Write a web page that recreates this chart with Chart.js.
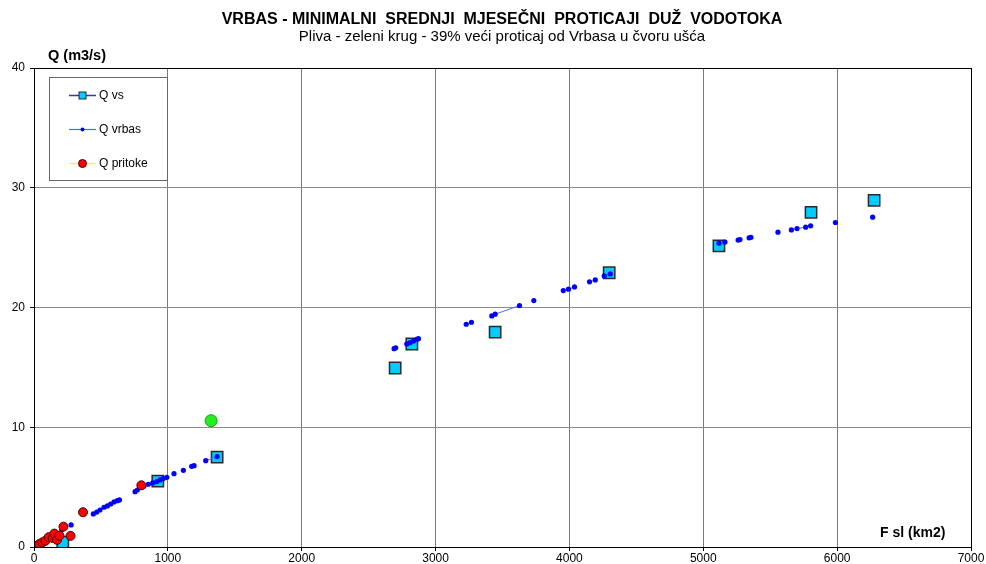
<!DOCTYPE html>
<html>
<head>
<meta charset="utf-8">
<script src="https://cdn.jsdelivr.net/npm/chart.js@4/dist/chart.umd.min.js"></script>
<style>
html,body{margin:0;padding:0;background:#fff;}
canvas{display:block;}
</style>
</head>
<body>
<canvas id="c" width="986" height="564"></canvas>
<script>
// ---- Data ----
const titleText = "VRBAS - MINIMALNI  SREDNJI  MJESEČNI  PROTICAJI  DUŽ  VODOTOKA";
const subtitleText = "Pliva - zeleni krug - 39% veći proticaj od Vrbasa u čvoru ušća";
const yAxisTitle = "Q (m3/s)";
const xAxisTitle = "F sl (km2)";
const seriesNames = ["Q vs", "Q vrbas", "Q pritoke"];
const xTickValues = [0, 1000, 2000, 3000, 4000, 5000, 6000, 7000];
const yTickValues = [0, 10, 20, 30, 40];

// Q vs (measured stations)
const vsX = [215, 925, 1368, 2698, 2823, 3445, 4297, 5117, 5805, 6276];
const vsY = [0.4, 5.5, 7.5, 14.95, 16.95, 17.95, 22.9, 25.15, 27.95, 28.95];

// Q vrbas (null = break in line)
const vrbasX = [30, 110, 160, 207, null, 277, null,
  443, 469, 493, 523, 548, 573, 598, 623, 638, null,
  755, 772, 797, 822, 854, 887, 917, 942, 966, 992, null,
  1046, null, 1116, null, 1178, 1196, null, 1283, 1368, null,
  2690, 2702, null, 2785, 2810, 2835, 2860, 2872, null,
  3229, 3268, null, 3420, 3445, 3627, null, 3734, null,
  3954, 3993, 4038, null, 4150, 4193, null, 4260, 4305, null,
  5117, 5162, null, 5260, 5274, null, 5342, 5356, null, 5558, null,
  5658, 5700, 5765, 5802, null, 5987, null, 6265];
const vrbasY = [0.2, 0.7, 1.05, 1.42, null, 1.84, null,
  2.76, 2.92, 3.09, 3.32, 3.43, 3.59, 3.76, 3.87, 3.93, null,
  4.62, 4.76, 4.99, 5.1, 5.24, 5.35, 5.46, 5.6, 5.71, 5.82, null,
  6.12, null, 6.4, null, 6.74, 6.79, null, 7.21, 7.55, null,
  16.56, 16.64, null, 16.96, 17.07, 17.21, 17.35, 17.4, null,
  18.6, 18.77, null, 19.3, 19.44, 20.16, null, 20.58, null,
  21.41, 21.53, 21.72, null, 22.14, 22.3, null, 22.64, 22.8, null,
  25.37, 25.46, null, 25.63, 25.67, null, 25.82, 25.86, null, 26.29, null,
  26.48, 26.59, 26.71, 26.82, null, 27.1, null, 27.54];

// Q pritoke (tributaries)
const pritokeX = [2, 20, 40, 62, 85, 110, 140, 152, 172, 190, 220, 273, 366, 802];
const pritokeY = [0.03, 0.1, 0.25, 0.38, 0.52, 0.82, 0.75, 1.12, 0.6, 0.95, 1.7, 0.93, 2.9, 5.15];

// Pliva (green circle)
const plivaX = [1323];
const plivaY = [10.55];

// ---- Build ----
function pts(xs, ys) { return xs.map((x, i) => ({ x: x, y: ys[i] })); }

const FONT = "'Liberation Sans', Arial, sans-serif";

const styleVs = { line: '#3a3a96', fill: '#00ccff', border: '#2a2a2a' };
const styleVrbas = { line: '#4a6cff', fill: '#0000ff' };
const stylePritoke = { line: '#ffff00', fill: '#ff0000', border: '#4a0000' };

const decorPlugin = {
  id: 'decor',
  afterDraw(chart) {
    const ctx = chart.ctx;
    const a = chart.chartArea;
    ctx.save();
    // plot border
    ctx.strokeStyle = '#000';
    ctx.lineWidth = 1;
    ctx.strokeRect(Math.round(a.left) + 0.5, Math.round(a.top) + 0.5, Math.round(a.right - a.left), Math.round(a.bottom - a.top));
    // titles
    ctx.fillStyle = '#000';
    ctx.textAlign = 'center';
    ctx.textBaseline = 'alphabetic';
    ctx.font = "bold 16px " + FONT;
    ctx.fillText(titleText, 502, 24);
    ctx.font = "15px " + FONT;
    ctx.fillText(subtitleText, 502, 41);
    ctx.textAlign = 'left';
    ctx.font = "bold 14.5px " + FONT;
    ctx.fillText(yAxisTitle, 48, 60);
    ctx.font = "bold 14px " + FONT;
    ctx.fillText(xAxisTitle, 880, 537);
    // legend
    const lx = 49.5, ly = 77.5, lw = 118, lh = 103;
    ctx.fillStyle = '#fff';
    ctx.fillRect(lx, ly, lw, lh);
    ctx.strokeStyle = '#666';
    ctx.lineWidth = 1;
    ctx.strokeRect(lx, ly, lw, lh);
    const rows = [95, 129, 163];
    const styles = [styleVs, styleVrbas, stylePritoke];
    for (let i = 0; i < 3; i++) {
      const y = rows[i];
      const s = styles[i];
      ctx.strokeStyle = s.line;
      ctx.lineWidth = i === 0 ? 1.5 : 1.2;
      ctx.beginPath();
      ctx.moveTo(69, y + 0.5);
      ctx.lineTo(96, y + 0.5);
      ctx.stroke();
      if (i === 0) {
        ctx.fillStyle = s.fill;
        ctx.fillRect(79, y - 3, 7, 7);
        ctx.strokeStyle = s.border;
        ctx.lineWidth = 1;
        ctx.strokeRect(79, y - 3, 7, 7);
      } else if (i === 1) {
        ctx.fillStyle = s.fill;
        ctx.beginPath();
        ctx.arc(82.5, y + 0.5, 2, 0, Math.PI * 2);
        ctx.fill();
      } else {
        ctx.fillStyle = s.fill;
        ctx.beginPath();
        ctx.arc(82.5, y + 0.5, 4, 0, Math.PI * 2);
        ctx.fill();
        ctx.strokeStyle = s.border;
        ctx.lineWidth = 1;
        ctx.stroke();
      }
      ctx.fillStyle = '#000';
      ctx.font = "12px " + FONT;
      ctx.textAlign = 'left';
      ctx.textBaseline = 'middle';
      ctx.fillText(seriesNames[i], 99, y + 1);
    }
    ctx.restore();
  }
};

new Chart(document.getElementById('c'), {
  type: 'scatter',
  data: {
    datasets: [
      {
        label: seriesNames[2],
        data: pts(pritokeX, pritokeY),
        order: 1,
        showLine: false,
        pointStyle: 'circle',
        pointRadius: 4.5,
        pointBackgroundColor: stylePritoke.fill,
        pointBorderColor: stylePritoke.border,
        pointBorderWidth: 1,
        borderColor: stylePritoke.line
      },
      {
        label: 'Pliva',
        data: pts(plivaX, plivaY),
        order: 0,
        showLine: false,
        pointRadius: 6,
        pointBackgroundColor: '#22ee22',
        pointBorderColor: '#11a011',
        pointBorderWidth: 1
      },
      {
        label: seriesNames[1],
        data: pts(vrbasX, vrbasY),
        order: 2,
        showLine: true,
        spanGaps: false,
        tension: 0,
        borderColor: styleVrbas.line,
        borderWidth: 1,
        pointRadius: 2.6,
        pointBackgroundColor: styleVrbas.fill,
        pointBorderWidth: 0,
        pointBorderColor: styleVrbas.fill
      },
      {
        label: seriesNames[0],
        data: pts(vsX, vsY),
        order: 3,
        showLine: false,
        pointStyle: 'rect',
        pointRadius: 8,
        pointBackgroundColor: styleVs.fill,
        pointBorderColor: styleVs.border,
        pointBorderWidth: 1.5,
        borderColor: styleVs.line
      }
    ]
  },
  options: {
    responsive: false,
    animation: false,
    devicePixelRatio: 1,
    events: [],
    layout: { padding: { top: 68, left: 0, right: 15, bottom: 0 } },
    plugins: {
      legend: { display: false },
      title: { display: false },
      tooltip: { enabled: false }
    },
    scales: {
      x: {
        type: 'linear',
        min: 0,
        max: 7000,
        afterBuildTicks: (s) => { s.ticks = xTickValues.map(v => ({ value: v })); },
        afterFit: (s) => { s.height = 17; },
        ticks: { color: '#000', font: { family: FONT, size: 12 }, padding: 0, maxRotation: 0, autoSkip: false,
                 callback: (v) => String(v) },
        grid: { color: '#7a7a7a', lineWidth: 1, tickLength: 4, tickColor: '#000' },
        border: { display: true, color: '#000', width: 1 }
      },
      y: {
        type: 'linear',
        min: 0,
        max: 40,
        afterBuildTicks: (s) => { s.ticks = yTickValues.map(v => ({ value: v })); },
        afterFit: (s) => { s.width = 34; },
        ticks: { color: '#000', font: { family: FONT, size: 12 }, padding: 5, callback: (v) => String(v) },
        grid: { color: '#8c8c8c', lineWidth: 1, tickLength: 4, tickColor: '#000' },
        border: { display: true, color: '#000', width: 1 }
      }
    }
  },
  plugins: [decorPlugin]
});
</script>
</body>
</html>
